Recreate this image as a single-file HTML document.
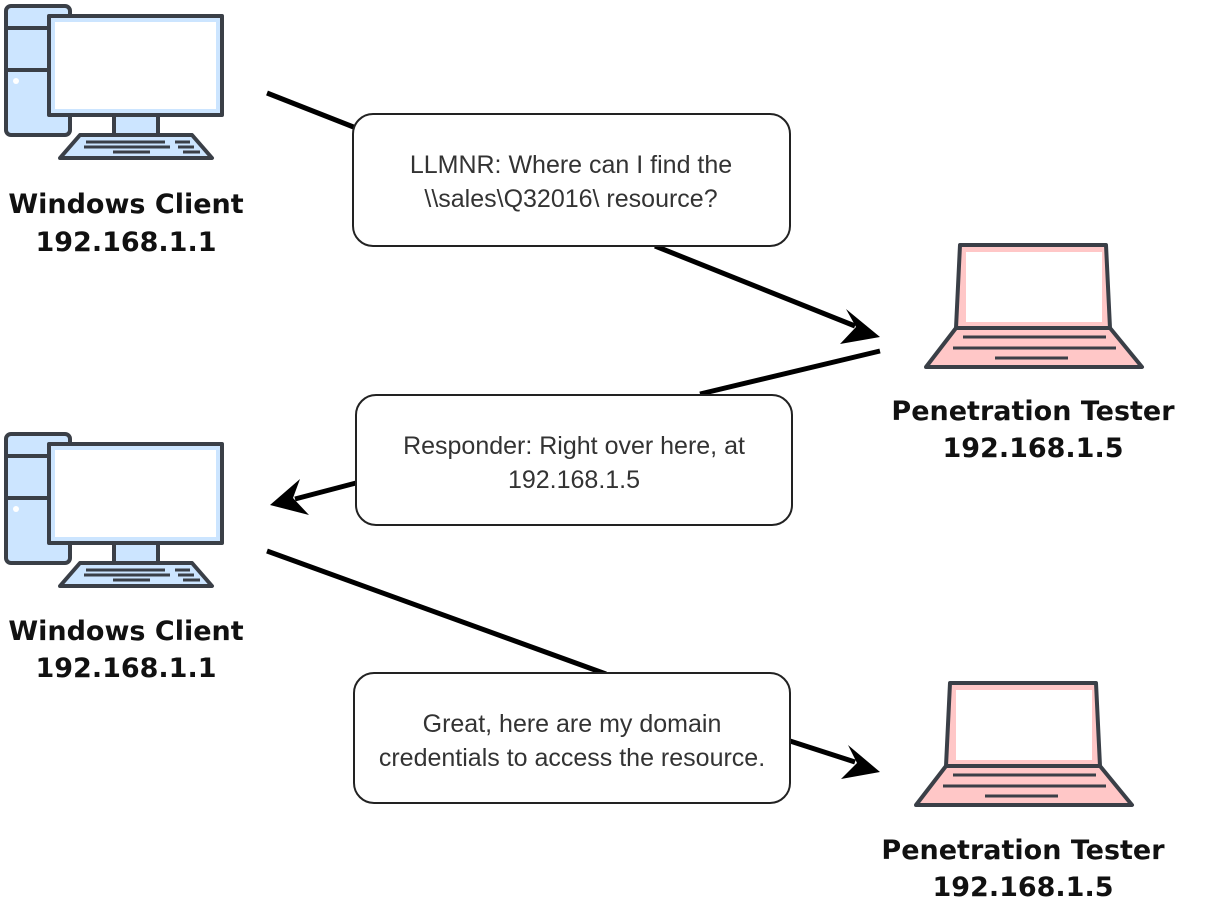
<!DOCTYPE html>
<html><head><meta charset="utf-8"><style>
html,body{margin:0;padding:0;background:#fff;}
svg{display:block;}
.lbl{font-family:"DejaVu Sans","Liberation Sans",sans-serif;font-weight:bold;font-size:27px;fill:#111;text-anchor:middle;}
.bt{font-family:"Liberation Sans",sans-serif;font-size:25px;fill:#333;text-anchor:middle;}
</style></head><body>
<svg width="1209" height="900" viewBox="0 0 1209 900" xmlns="http://www.w3.org/2000/svg">
<defs>
<g id="pc" stroke="#3a3f47" stroke-width="4" stroke-linejoin="round">
  <rect x="6" y="6" width="64" height="129" rx="5" fill="#cce5ff"/>
  <line x1="6" y1="28" x2="48" y2="28"/>
  <line x1="6" y1="70" x2="48" y2="70"/>
  <circle cx="16" cy="81" r="3" fill="#fff" stroke="none"/>
  <rect x="49" y="16" width="173" height="99" fill="#cce5ff"/>
  <rect x="55" y="22" width="161" height="87" fill="#fff" stroke="none"/>
  <rect x="114" y="115" width="44" height="20" fill="#cce5ff"/>
  <polygon points="80,135 192,135 212,158 60,158" fill="#cce5ff"/>
  <line x1="86" y1="142" x2="165" y2="142" stroke-width="3"/>
  <line x1="175" y1="142" x2="190" y2="142" stroke-width="3"/>
  <line x1="84" y1="147" x2="170" y2="147" stroke-width="3"/>
  <line x1="178" y1="147" x2="194" y2="147" stroke-width="3"/>
  <line x1="113" y1="152" x2="150" y2="152" stroke-width="3"/>
  <line x1="183" y1="152" x2="200" y2="152" stroke-width="3"/>
</g>
<g id="lap" stroke="#3a3f47" stroke-width="4" stroke-linejoin="round">
  <polygon points="960,245 1106,245 1110,328 956,328" fill="#ffc7c7"/>
  <rect x="966" y="252" width="136" height="70" fill="#fff" stroke="none"/>
  <polygon points="956,328 1110,328 1142,367 926,367" fill="#ffc7c7"/>
  <line x1="963" y1="337" x2="1106" y2="337" stroke-width="3"/>
  <line x1="953" y1="348" x2="1116" y2="348" stroke-width="3"/>
  <line x1="995" y1="358" x2="1068" y2="358" stroke-width="3"/>
</g>
</defs>

<use href="#pc"/>
<use href="#pc" y="428"/>
<use href="#lap"/>
<use href="#lap" x="-10" y="438"/>

<text class="lbl" x="126" y="213">Windows Client</text>
<text class="lbl" x="126" y="251">192.168.1.1</text>
<text class="lbl" x="126" y="640">Windows Client</text>
<text class="lbl" x="126" y="677">192.168.1.1</text>
<text class="lbl" x="1033" y="420">Penetration Tester</text>
<text class="lbl" x="1033" y="457">192.168.1.5</text>
<text class="lbl" x="1023" y="859">Penetration Tester</text>
<text class="lbl" x="1023" y="896">192.168.1.5</text>

<g stroke="#000" stroke-width="5" fill="none">
  <line x1="267" y1="93" x2="356" y2="128"/>
  <line x1="655" y1="246" x2="855" y2="326"/>
  <line x1="880" y1="351" x2="700" y2="394"/>
  <line x1="356" y1="483" x2="295" y2="499"/>
  <line x1="267" y1="551" x2="606" y2="674"/>
  <line x1="790" y1="741" x2="855" y2="762"/>
</g>
<g fill="#000">
  <polygon points="880,337 846,309 856,327 840,344"/>
  <polygon points="270,505 300,479 293,498 309,515"/>
  <polygon points="880,772 848,745 857,763 841,779"/>
</g>

<g fill="#fff" stroke="#222" stroke-width="2">
  <rect x="353" y="114" width="437" height="132" rx="20"/>
  <rect x="356" y="395" width="436" height="130" rx="20"/>
  <rect x="354" y="673" width="436" height="130" rx="20"/>
</g>
<text class="bt" x="571" y="173">LLMNR: Where can I find the</text>
<text class="bt" x="571" y="207">\\sales\Q32016\ resource?</text>
<text class="bt" x="574" y="454">Responder: Right over here, at</text>
<text class="bt" x="574" y="488">192.168.1.5</text>
<text class="bt" x="572" y="732">Great, here are my domain</text>
<text class="bt" x="572" y="766">credentials to access the resource.</text>
</svg>
</body></html>
